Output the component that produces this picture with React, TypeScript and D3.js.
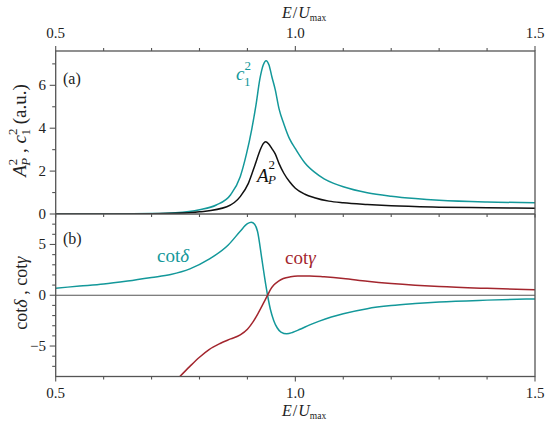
import React from "react";
import * as d3 from "d3";

// ---- data ----
const c1SqE = [0.5, 0.6, 0.7, 0.75, 0.8, 0.835, 0.865, 0.885, 0.898, 0.909, 0.918, 0.926, 0.933, 0.939, 0.945, 0.951, 0.958, 0.966, 0.976, 0.988, 1.0, 1.02, 1.04, 1.06, 1.08, 1.1, 1.15, 1.2, 1.25, 1.3, 1.4, 1.5];
const c1SqV = [0.0, 0.0, 0.02, 0.06, 0.2, 0.42, 0.9, 1.74, 2.8, 3.95, 5.1, 6.3, 6.95, 7.15, 6.95, 6.4, 5.8, 4.9, 4.2, 3.5, 3.05, 2.38, 1.95, 1.64, 1.43, 1.27, 0.99, 0.83, 0.72, 0.64, 0.56, 0.53];

const apSqE = [0.5, 0.65, 0.75, 0.8, 0.857, 0.885, 0.902, 0.916, 0.926, 0.933, 0.938, 0.944, 0.951, 0.958, 0.966, 0.976, 0.988, 1.0, 1.02, 1.04, 1.07, 1.1, 1.15, 1.2, 1.3, 1.4, 1.5];
const apSqV = [0.0, 0.0, 0.03, 0.1, 0.34, 0.81, 1.43, 2.3, 2.95, 3.28, 3.37, 3.28, 3.05, 2.8, 2.35, 1.9, 1.5, 1.2, 0.92, 0.76, 0.6, 0.52, 0.44, 0.38, 0.32, 0.29, 0.27];

const cotDeltaE = [0.5, 0.55, 0.6, 0.65, 0.7, 0.74, 0.78, 0.82, 0.86, 0.885, 0.9, 0.908, 0.915, 0.921, 0.93, 0.936, 0.942, 0.948, 0.955, 0.962, 0.97, 0.982, 0.995, 1.01, 1.03, 1.05, 1.075, 1.1, 1.15, 1.2, 1.25, 1.3, 1.4, 1.5];
const cotDeltaV = [0.7, 0.9, 1.1, 1.4, 1.75, 2.05, 2.6, 3.55, 4.95, 6.3, 7.05, 7.2, 7.0, 6.3, 3.6, 1.7, 0.0, -1.4, -2.5, -3.2, -3.62, -3.8, -3.65, -3.35, -2.92, -2.55, -2.15, -1.82, -1.32, -1.02, -0.82, -0.66, -0.48, -0.36];

const cotGammaE = [0.759, 0.78, 0.8, 0.82, 0.843, 0.865, 0.885, 0.9, 0.912, 0.922, 0.93, 0.936, 0.942, 0.948, 0.955, 0.965, 0.975, 0.99, 1.005, 1.03, 1.06, 1.1, 1.15, 1.2, 1.25, 1.3, 1.4, 1.5];
const cotGammaV = [-8.0, -7.0, -6.1, -5.35, -4.75, -4.3, -3.9, -3.35, -2.6, -1.8, -1.1, -0.55, 0.0, 0.55, 1.0, 1.4, 1.65, 1.82, 1.89, 1.9, 1.82, 1.66, 1.38, 1.16, 0.99, 0.86, 0.68, 0.54];

const xMajorTicks = [0.5, 1.0, 1.5];
const xMinorTicks = [0.6, 0.7, 0.8, 0.9, 1.1, 1.2, 1.3, 1.4];
const yaMajorTicks = [0, 2, 4, 6];
const yaMinorTicks = [1, 3, 5, 7];
const ybMajorTicks = [-5, 0, 5];
const ybMinorTicks = [-7, -6, -4, -3, -2, -1, 1, 2, 3, 4, 6, 7];

const TEAL = "#13989a";
const RED = "#a3262e";
const BLACK = "#111111";
const AXIS = "#555555";
const FONT = "Liberation Serif, Tinos, Times New Roman, Times, DejaVu Serif, serif";

const L = 55.7, R = 535, TA = 51, MID = 214, BB = 376.5;

export default function App() {
  const x = d3.scaleLinear().domain([0.5, 1.5]).range([L, R]);
  const ya = d3.scaleLinear().domain([0, 7.6]).range([MID, TA]);
  const yb = d3.scaleLinear().domain([-8, 8]).range([BB, MID]);

  const zip = (e: number[], v: number[]) => e.map((d, i) => [d, v[i]] as [number, number]);
  const lineA = d3.line<[number, number]>().x(d => x(d[0])).y(d => ya(d[1])).curve(d3.curveMonotoneX);
  const lineB = d3.line<[number, number]>().x(d => x(d[0])).y(d => yb(d[1])).curve(d3.curveMonotoneX);

  return (
    <svg width={550} height={429} style={{ position: "absolute", left: 0, top: 0, background: "#fff" }}>
      <defs>
        <clipPath id="clipA"><rect x={L} y={TA} width={R - L} height={MID - TA} /></clipPath>
        <clipPath id="clipB"><rect x={L} y={MID} width={R - L} height={BB - MID} /></clipPath>
      </defs>

      {/* zero line panel b */}
      <line x1={L} x2={R} y1={yb(0)} y2={yb(0)} stroke={AXIS} strokeWidth={1.2} />

      {/* curves */}
      <g clipPath="url(#clipA)" fill="none" strokeWidth={1.5}>
        <path d={lineA(zip(c1SqE, c1SqV)) || ""} stroke={TEAL} />
        <path d={lineA(zip(apSqE, apSqV)) || ""} stroke={BLACK} />
      </g>
      <g clipPath="url(#clipB)" fill="none" strokeWidth={1.5}>
        <path d={lineB(zip(cotDeltaE, cotDeltaV)) || ""} stroke={TEAL} />
        <path d={lineB(zip(cotGammaE, cotGammaV)) || ""} stroke={RED} />
      </g>

      {/* frame */}
      <g stroke={AXIS} strokeWidth={1.3} fill="none">
        <rect x={L} y={TA} width={R - L} height={BB - TA} />
        <line x1={L} x2={R} y1={MID} y2={MID} />
      </g>

      {/* ticks */}
      <g stroke={AXIS} strokeWidth={1.1}>
        {xMajorTicks.map(t => (
          <g key={"xm" + t}>
            <line x1={x(t)} x2={x(t)} y1={TA} y2={TA - 5} />
            <line x1={x(t)} x2={x(t)} y1={BB} y2={BB + 5} />
            <line x1={x(t)} x2={x(t)} y1={MID} y2={MID + 3.5} />
          </g>
        ))}
        {xMinorTicks.map(t => (
          <g key={"xn" + t}>
            <line x1={x(t)} x2={x(t)} y1={TA} y2={TA - 3} />
            <line x1={x(t)} x2={x(t)} y1={BB} y2={BB + 3} />
            <line x1={x(t)} x2={x(t)} y1={MID} y2={MID + 3} />
          </g>
        ))}
        {yaMajorTicks.map(t => <line key={"ya" + t} x1={L} x2={L - 6} y1={ya(t)} y2={ya(t)} />)}
        {yaMinorTicks.map(t => <line key={"yan" + t} x1={L} x2={L - 3.5} y1={ya(t)} y2={ya(t)} />)}
        {ybMajorTicks.map(t => <line key={"yb" + t} x1={L} x2={L - 6} y1={yb(t)} y2={yb(t)} />)}
        {ybMinorTicks.map(t => <line key={"ybn" + t} x1={L} x2={L - 3.5} y1={yb(t)} y2={yb(t)} />)}
      </g>

      <g fontFamily={FONT} fill="#222">
        {/* tick labels */}
        {xMajorTicks.map(t => (
          <g key={"xl" + t} fontSize={15}>
            <text x={x(t)} y={38} textAnchor="middle">{t.toFixed(1)}</text>
            <text x={x(t)} y={398} textAnchor="middle">{t.toFixed(1)}</text>
          </g>
        ))}
        {yaMajorTicks.map(t => (
          <text key={"yal" + t} x={46} y={ya(t) + 5} textAnchor="end" fontSize={15}>{t}</text>
        ))}
        {ybMajorTicks.map(t => (
          <text key={"ybl" + t} x={46} y={yb(t) + 5} textAnchor="end" fontSize={15}>{t < 0 ? "\u2212" + Math.abs(t) : t}</text>
        ))}

        {/* x axis titles */}
        {[18, 416].map(yy => (
          <text key={"xt" + yy} x={282} y={yy} fontSize={16}>
            <tspan fontStyle="italic">E</tspan>
            <tspan dx={1}>/</tspan>
            <tspan fontStyle="italic" dx={1}>U</tspan>
            <tspan fontSize={9.5} dy={3}>max</tspan>
          </text>
        ))}

        {/* y axis titles */}
        <text transform={`translate(26,${(TA + MID) / 2 - 2}) rotate(-90)`} textAnchor="middle" fontSize={19}>
          <tspan fontStyle="italic">A</tspan>
          <tspan fontSize={13} dy={-9}>2</tspan>
          <tspan fontSize={13} fontStyle="italic" dx={-7} dy={13}>P</tspan>
          <tspan dy={-4}> , </tspan>
          <tspan fontStyle="italic">c</tspan>
          <tspan fontSize={13} dy={-9}>2</tspan>
          <tspan fontSize={13} dx={-7} dy={13}>1</tspan>
          <tspan dy={-4}> (a.u.)</tspan>
        </text>
        <text transform={`translate(27,${(MID + BB) / 2 - 2}) rotate(-90)`} textAnchor="middle" fontSize={18}>
          cot<tspan fontStyle="italic">δ</tspan> , cot<tspan fontStyle="italic">γ</tspan>
        </text>

        {/* panel labels */}
        <text x={63} y={84} fontSize={16}>(a)</text>
        <text x={63} y={244} fontSize={16}>(b)</text>
      </g>

      {/* curve labels */}
      <g fontFamily={FONT}>
        <text x={236} y={80} fontSize={19} fill={TEAL}>
          <tspan fontStyle="italic">c</tspan>
          <tspan fontSize={13} dy={-10}>2</tspan>
          <tspan fontSize={13} dx={-7} dy={16}>1</tspan>
        </text>
        <text x={257} y={182} fontSize={19} fill={BLACK}>
          <tspan fontStyle="italic">A</tspan>
          <tspan fontSize={13} dy={-13}>2</tspan>
          <tspan fontSize={13} fontStyle="italic" dx={-7} dy={15}>P</tspan>
        </text>
        <text x={157} y={262} fontSize={19} fill={TEAL}>
          cot<tspan fontStyle="italic">δ</tspan>
        </text>
        <text x={285} y={264} fontSize={19} fill={RED}>
          cot<tspan fontStyle="italic">γ</tspan>
        </text>
      </g>
    </svg>
  );
}
